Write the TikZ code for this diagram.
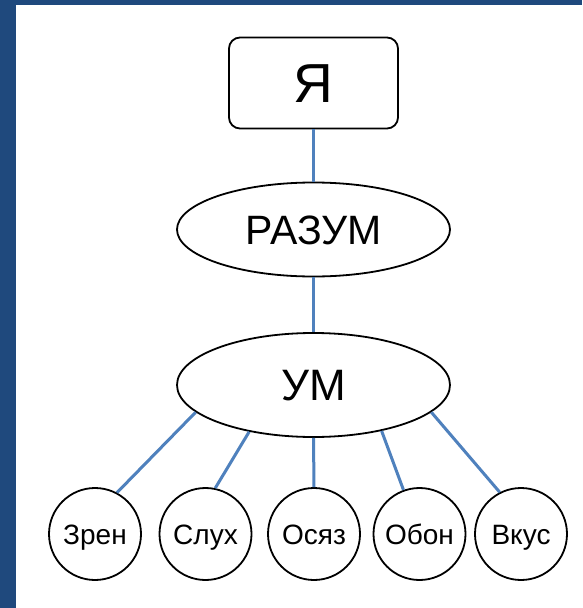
\documentclass[tikz,border=0pt]{standalone}
\usepackage{fontspec}
\setmainfont{Liberation Sans}
\usetikzlibrary{shapes.geometric}
\definecolor{frameblue}{RGB}{31,73,125}
\definecolor{linkblue}{RGB}{79,129,189}
\begin{document}
\begin{tikzpicture}[x=1pt,y=-1pt,
  shapeline/.style={draw=black,line width=1.8pt,fill=white,inner sep=0pt,text depth=0pt},
  boxnode/.style={shapeline,rectangle,rounded corners=11pt,minimum width=169pt,minimum height=91pt,font=\fontsize{55}{60}\selectfont,text height=39.4pt},
  ellnode/.style={shapeline,ellipse,minimum width=273pt},
  sensenode/.style={shapeline,circle,minimum size=92pt,font=\fontsize{28}{32}\selectfont,text height=20pt},
  link/.style={draw=linkblue,line width=3pt}]
\useasboundingbox (0,0) rectangle (582,608);
\fill[white] (0,0) rectangle (582,608);
\fill[frameblue] (0,0) rectangle (16,608);
\fill[frameblue] (0,0) rectangle (582,4.5);

\node[boxnode] (ya) at (313.5,83) {Я};
\node[ellnode,minimum height=94pt,font=\fontsize{41}{46}\selectfont,text height=29.4pt] (razum) at (313.5,229.5) {РАЗУМ};
\node[ellnode,minimum height=104pt,font=\fontsize{44}{50}\selectfont,text height=31.5pt] (um) at (313.5,385) {УМ};

\node[sensenode] (zren) at (95,534) {Зрен};
\node[sensenode] (slukh) at (205.5,534) {Слух};
\node[sensenode] (osyaz) at (314,534) {Осяз};
\node[sensenode] (obon) at (419.5,534) {Обон};
\node[sensenode] (vkus) at (521,534) {Вкус};

\draw[link] (ya.south) -- (razum.north);
\draw[link] (razum.south) -- (um.north);
\draw[link] (um.193.9) -- (zren.62.9);
\draw[link] (um.216.8) -- (slukh.78.3);
\draw[link] (um.south) -- (osyaz.north);
\draw[link] (um.326.1) -- (obon.110.6);
\draw[link] (um.347.2) -- (vkus.117);
\end{tikzpicture}
\end{document}
